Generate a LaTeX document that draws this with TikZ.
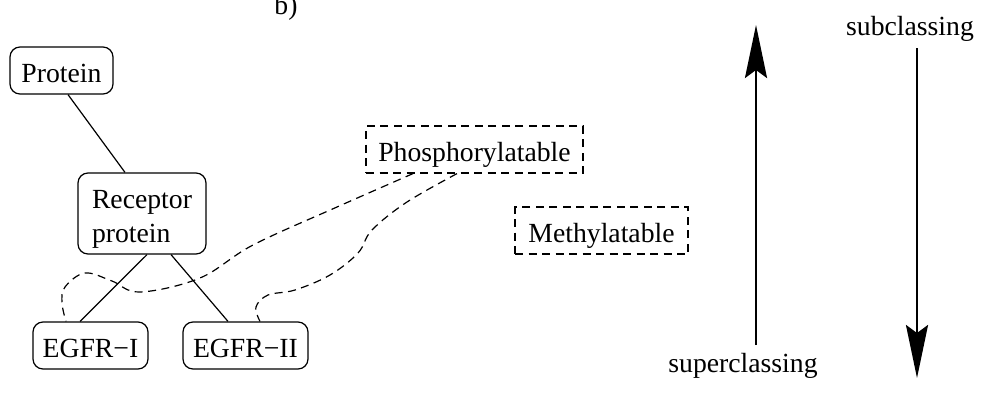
\documentclass[tikz,border=0pt]{standalone}
\usepackage{fontspec}
\setmainfont{Liberation Serif}
\usetikzlibrary{arrows.meta}
\begin{document}
\begin{tikzpicture}[x=1pt,y=-1pt, font=\fontsize{27.7}{34}\selectfont,
  box/.style={draw, rounded corners=10pt, line width=1.2pt, inner xsep=6pt, inner ysep=4pt, text height=31pt, text depth=8pt, anchor=base},
  dbox/.style={draw, dash pattern=on 8pt off 5.5pt, line width=1.2pt, inner xsep=6pt, inner ysep=4pt, text height=31pt, text depth=8pt, anchor=base},
  link/.style={line width=1.2pt},
  dlink/.style={line width=1.2pt, dash pattern=on 8pt off 5.5pt},
  bigarrow/.style={line width=2.6pt, -{Stealth[length=53pt,width=22pt,inset=8pt]}},
  lbl/.style={anchor=base, inner sep=0pt}]
\useasboundingbox (0,0) rectangle (982,394);
\node[lbl] (b) at (286,14) {b)};
\node[box, minimum width=103pt] (prot) at (61.5,82) {Protein};
\node[box, minimum width=128pt, text depth=42pt] (rec) at (142,208) {\begin{tabular}[t]{@{}l@{}}Receptor\\protein\end{tabular}};
\node[box, minimum width=115pt] (e1) at (90.5,357) {EGFR−I};
\node[box, minimum width=125pt] (e2) at (245.5,357) {EGFR−II};
\node[dbox, minimum width=217pt] (ph) at (474.5,161) {Phosphorylatable};
\node[dbox, minimum width=173pt] (me) at (601.5,242) {Methylatable};
% solid links
\draw[link] ([xshift=6.5pt]prot.south) -- ([xshift=-17pt]rec.north);
\draw[link] ([xshift=5pt]rec.south) -- ([xshift=-10.5pt]e1.north);
\draw[link] ([xshift=29pt]rec.south) -- ([xshift=-17.5pt]e2.north);
% dashed curves
\coordinate (c1s) at ([xshift=-61.5pt]ph.south);
\coordinate (c1e) at ([xshift=-24.5pt]e1.north);
\coordinate (c2s) at ([xshift=-17.5pt]ph.south);
\coordinate (c2e) at ([xshift=14.5pt]e2.north);
\draw[dlink] plot[smooth, tension=0.6] coordinates {(c1s) (337,207) (253,245) (200,278) (140,292) (112,281) (85,273) (65,287) (62,303) (c1e)};
\draw[dlink] plot[smooth, tension=0.6] coordinates {(c2s) (407,202) (372,230) (358,253) (330,275) (295,290) (268,295) (256,307) (c2e)};
% big arrows
\coordinate (upfrom) at (756,345);
\coordinate (upto) at (756,25);
\coordinate (dnfrom) at (917,48);
\coordinate (dnto) at (917,378);
\draw[bigarrow] (upfrom) -- (upto);
\draw[bigarrow] (dnfrom) -- (dnto);
\node[lbl] (sup) at (743,372) {superclassing};
\node[lbl] (sub) at (910,35) {subclassing};
\end{tikzpicture}
\end{document}
